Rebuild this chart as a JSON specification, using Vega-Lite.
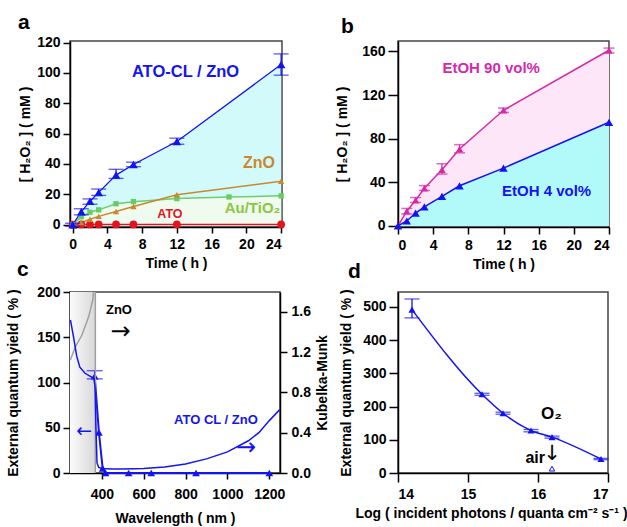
{
"$schema": "https://vega.github.io/schema/vega-lite/v6.json",
"background": "white",
"padding": {"left": 5, "top": 10, "right": 0, "bottom": 0},
"config": {
  "font": "Liberation Sans",
  "view": {"stroke": "#444", "strokeWidth": 1.5},
  "axis": {"grid": false, "labelFont": "Liberation Sans", "labelFontWeight": "bold", "labelFontSize": 14, "labelColor": "#000", "titleFont": "Liberation Sans", "titleFontSize": 14, "titleFontWeight": "bold", "titleColor": "#000", "domainColor": "#000", "domainWidth": 1.5, "tickColor": "#000", "tickWidth": 1.5, "tickSize": 7, "labelPadding": 3, "titlePadding": 5},
  "title": {"font": "Liberation Sans", "fontSize": 21, "fontWeight": "bold", "anchor": "start", "frame": "group", "color": "#000"},
  "text": {"font": "Liberation Sans", "fontWeight": "bold"}
},
"datasets": {
  "a": [
    {"s":"A","t":0,"v":0,"lo":-1,"hi":1},
    {"s":"A","t":1,"v":8.5,"lo":6.5,"hi":10.5},
    {"s":"A","t":2,"v":15.5,"lo":13.5,"hi":17},
    {"s":"A","t":3,"v":21.3,"lo":19.3,"hi":23.5},
    {"s":"A","t":5,"v":32.7,"lo":30.5,"hi":36.5},
    {"s":"A","t":7,"v":39.7,"lo":38.2,"hi":41.2},
    {"s":"A","t":12,"v":54.8,"lo":53,"hi":57},
    {"s":"A","t":24,"v":105.5,"lo":98.5,"hi":112.5},
    {"s":"Z","t":0,"v":0},{"s":"Z","t":1,"v":1.5},{"s":"Z","t":2,"v":3.6},{"s":"Z","t":3,"v":5.5},{"s":"Z","t":5,"v":8.7},{"s":"Z","t":7,"v":12},{"s":"Z","t":12,"v":19.8},{"s":"Z","t":24,"v":28.7},
    {"s":"G","t":0,"v":0},{"s":"G","t":1,"v":5.2},{"s":"G","t":2,"v":8.2},{"s":"G","t":3,"v":9.8},{"s":"G","t":5,"v":13.8},{"s":"G","t":7,"v":15.2},{"s":"G","t":12,"v":17.2},{"s":"G","t":18,"v":18.3},{"s":"G","t":24,"v":19},
    {"s":"R","t":0,"v":0},{"s":"R","t":1,"v":0.2},{"s":"R","t":2,"v":0.2},{"s":"R","t":3,"v":0.2},{"s":"R","t":5,"v":0.2},{"s":"R","t":7,"v":0.2},{"s":"R","t":12,"v":0.2},{"s":"R","t":24,"v":0.2}
  ],
  "b": [
    {"s":"M","t":0,"v":0},
    {"s":"M","t":1,"v":13.5,"lo":11,"hi":16},
    {"s":"M","t":2,"v":23.5,"lo":21.5,"hi":26},
    {"s":"M","t":3,"v":34.5,"lo":32.5,"hi":37},
    {"s":"M","t":5,"v":51.5,"lo":47.5,"hi":57},
    {"s":"M","t":7,"v":70.5,"lo":67,"hi":74.5},
    {"s":"M","t":12,"v":106,"lo":104,"hi":108},
    {"s":"M","t":24,"v":161,"lo":158.5,"hi":163},
    {"s":"B","t":0,"v":0},{"s":"B","t":1,"v":4.5},{"s":"B","t":2,"v":11.8},{"s":"B","t":3,"v":17.5},{"s":"B","t":5,"v":27},{"s":"B","t":7,"v":36.8},{"s":"B","t":12,"v":53},{"s":"B","t":24,"v":95}
  ],
  "c_eqy": [
    {"w":366,"q":107,"lo":104,"hi":113},
    {"w":386,"q":45},
    {"w":404,"q":5},
    {"w":418,"q":0},
    {"w":528,"q":0},
    {"w":636,"q":0},
    {"w":850,"q":0},
    {"w":1200,"q":0}
  ],
  "c_km": [
    {"w":250,"k":1.52},{"w":265,"k":1.35},{"w":280,"k":1.16},{"w":295,"k":1.05},{"w":320,"k":0.99},{"w":345,"k":0.96},{"w":362,"k":0.94},{"w":368,"k":0.85},{"w":372,"k":0.45},{"w":377,"k":0.1},{"w":385,"k":0.055},{"w":400,"k":0.045},{"w":450,"k":0.04},{"w":500,"k":0.04},{"w":600,"k":0.045},{"w":700,"k":0.06},{"w":800,"k":0.09},{"w":900,"k":0.14},{"w":1000,"k":0.21},{"w":1100,"k":0.32},{"w":1150,"k":0.4},{"w":1200,"k":0.52},{"w":1250,"k":0.63}
  ],
  "c_zno": [
    {"i":1,"w":249,"k":1.12},{"i":2,"w":273,"k":1.25},{"i":3,"w":305,"k":1.37},{"i":4,"w":337,"k":1.55},{"i":5,"w":357,"k":1.72},{"i":6,"w":364,"k":1.9},{"i":7,"w":369,"k":1.9},{"i":8,"w":369,"k":0}
  ],
  "d": [
    {"p":14.2,"e":492,"lo":467,"hi":524},
    {"p":15.2,"e":237,"lo":234,"hi":240},
    {"p":15.5,"e":180,"lo":177,"hi":183},
    {"p":15.9,"e":128,"lo":124,"hi":131},
    {"p":16.2,"e":108,"lo":105,"hi":111},
    {"p":16.9,"e":42,"lo":40,"hi":44}
  ],
  "d_air": [{"p":16.2,"e":13}]
},
"columns": 2,
"bounds": "flush",
"spacing": {"row": 65, "column": 116},
"concat": [
{
  "width": 212, "height": 186,
  "title": {"text": "a", "dx": -52, "offset": 3},
  "data": {"name": "a"},
  "encoding": {
    "x": {"field":"t","type":"quantitative","scale":{"domain":[-0.3,24.1],"nice":false,"zero":false},"axis":{"values":[0,4,8,12,16,20,24],"tickSize":6,"labelPadding":4},"title":"Time ( h )"},
    "y": {"field":"v","type":"quantitative","scale":{"domain":[-1.5,121],"nice":false,"zero":false},"axis":{"values":[0,20,40,60,80,100,120],"tickSize":7,"titlePadding":4},"title":"[ H₂O₂ ] ( mM )"}
  },
  "layer": [
    {"transform":[{"filter":"datum.s == 'A'"}],"mark":{"type":"area","color":"#d2fafa"},"encoding":{"y2":{"datum":0}}},
    {"transform":[{"filter":"datum.s == 'G'"}],"mark":{"type":"area","color":"#eefbee"},"encoding":{"y2":{"datum":0}}},
    {"transform":[{"filter":"datum.s == 'R'"}],"mark":{"type":"line","color":"#e4141e","strokeWidth":1.5},"encoding":{}},
    {"transform":[{"filter":"datum.s == 'G'"}],"mark":{"type":"line","color":"#6fcc6f","strokeWidth":1.5},"encoding":{}},
    {"transform":[{"filter":"datum.s == 'Z'"}],"mark":{"type":"line","color":"#c8892e","strokeWidth":1.5},"encoding":{}},
    {"transform":[{"filter":"datum.s == 'A'"}],"mark":{"type":"line","color":"#1414f0","strokeWidth":1.3},"encoding":{}},
    {"transform":[{"filter":"datum.s == 'R'"}],"mark":{"type":"point","shape":"circle","filled":true,"size":60,"opacity":1,"color":"#e4141e"}},
    {"transform":[{"filter":"datum.s == 'G'"}],"mark":{"type":"point","shape":"square","filled":true,"size":28,"opacity":1,"color":"#66cc66"}},
    {"transform":[{"filter":"datum.s == 'Z'"}],"mark":{"type":"point","shape":"triangle-up","filled":true,"size":40,"opacity":1,"color":"#c8892e"}},
    {"transform":[{"filter":"datum.s == 'A'"}],"mark":{"type":"point","shape":"triangle-up","filled":true,"size":75,"opacity":1,"color":"#1414f0"}},
    {"transform":[{"filter":"datum.s == 'A'"}],"mark":{"type":"rule","color":"#1414f0","strokeWidth":1.3},"encoding":{"y":{"field":"lo","type":"quantitative","title":"[ H₂O₂ ] ( mM )"},"y2":{"field":"hi"}}},
    {"transform":[{"filter":"datum.s == 'A'"}],"mark":{"type":"tick","orient":"horizontal","color":"#1414f0","size":15,"thickness":1.3},"encoding":{"y":{"field":"lo","type":"quantitative","title":"[ H₂O₂ ] ( mM )"}}},
    {"transform":[{"filter":"datum.s == 'A'"}],"mark":{"type":"tick","orient":"horizontal","color":"#1414f0","size":15,"thickness":1.3},"encoding":{"y":{"field":"hi","type":"quantitative","title":"[ H₂O₂ ] ( mM )"}}},
    {"transform":[{"filter":"datum.s == 'A' && datum.t == 24"}],"mark":{"type":"text","text":"ATO-CL / ZnO","fontSize":16.5,"color":"#1414f0"},"encoding":{"x":{"datum":13},"y":{"datum":100.3}}},
    {"transform":[{"filter":"datum.s == 'A' && datum.t == 24"}],"mark":{"type":"text","text":"ZnO","fontSize":16,"color":"#c8892e"},"encoding":{"x":{"datum":21.45},"y":{"datum":40.4}}},
    {"transform":[{"filter":"datum.s == 'A' && datum.t == 24"}],"mark":{"type":"text","text":"Au/TiO₂","fontSize":15,"color":"#8cc63f"},"encoding":{"x":{"datum":20.7},"y":{"datum":10.8}}},
    {"transform":[{"filter":"datum.s == 'A' && datum.t == 24"}],"mark":{"type":"text","text":"ATO","fontSize":12.5,"color":"#e4141e"},"encoding":{"x":{"datum":11.2},"y":{"datum":6.9}}}
  ]
},
{
  "width": 211, "height": 186,
  "title": {"text": "b", "dx": -57, "offset": 4},
  "data": {"name": "b"},
  "encoding": {
    "x": {"field":"t","type":"quantitative","scale":{"domain":[0,24],"nice":false,"zero":false},"axis":{"values":[0,4,8,12,16,20,24],"tickSize":7,"labelPadding":4},"title":"Time ( h )"},
    "y": {"field":"v","type":"quantitative","scale":{"domain":[-1,169.5],"nice":false,"zero":false},"axis":{"values":[0,40,80,120,160],"tickSize":10,"titlePadding":12},"title":"[ H₂O₂ ] ( mM )"}
  },
  "layer": [
    {"transform":[{"filter":"datum.s == 'M'"}],"mark":{"type":"area","color":"#fde6f8"},"encoding":{"y2":{"datum":0}}},
    {"transform":[{"filter":"datum.s == 'B'"}],"mark":{"type":"area","color":"#b2fafa"},"encoding":{"y2":{"datum":0}}},
    {"transform":[{"filter":"datum.s == 'M'"}],"mark":{"type":"line","color":"#d42aa8","strokeWidth":1.5},"encoding":{}},
    {"transform":[{"filter":"datum.s == 'B'"}],"mark":{"type":"line","color":"#1414f0","strokeWidth":1.5},"encoding":{}},
    {"transform":[{"filter":"datum.s == 'M'"}],"mark":{"type":"point","shape":"triangle-up","filled":true,"size":55,"opacity":1,"color":"#d42aa8"}},
    {"transform":[{"filter":"datum.s == 'B'"}],"mark":{"type":"point","shape":"triangle-up","filled":true,"size":70,"opacity":1,"color":"#1414f0"}},
    {"transform":[{"filter":"datum.s == 'M' && isValid(datum.lo)"}],"mark":{"type":"rule","color":"#d42aa8","strokeWidth":1.3},"encoding":{"y":{"field":"lo","type":"quantitative","title":"[ H₂O₂ ] ( mM )"},"y2":{"field":"hi"}}},
    {"transform":[{"filter":"datum.s == 'M' && isValid(datum.lo)"}],"mark":{"type":"tick","orient":"horizontal","color":"#d42aa8","size":11,"thickness":1.5},"encoding":{"y":{"field":"lo","type":"quantitative","title":"[ H₂O₂ ] ( mM )"}}},
    {"transform":[{"filter":"datum.s == 'M' && isValid(datum.lo)"}],"mark":{"type":"tick","orient":"horizontal","color":"#d42aa8","size":11,"thickness":1.5},"encoding":{"y":{"field":"hi","type":"quantitative","title":"[ H₂O₂ ] ( mM )"}}},
    {"transform":[{"filter":"datum.s == 'B' && datum.t == 24"}],"mark":{"type":"text","text":"EtOH 90 vol%","fontSize":15,"color":"#d42aa8"},"encoding":{"x":{"datum":10.6},"y":{"datum":144.4}}},
    {"transform":[{"filter":"datum.s == 'B' && datum.t == 24"}],"mark":{"type":"text","text":"EtOH 4 vol%","fontSize":15,"color":"#1414f0"},"encoding":{"x":{"datum":16.9},"y":{"datum":32}}}
  ]
},
{
  "width": 210, "height": 181,
  "title": {"text": "c", "dx": -53, "offset": 5},
  "resolve": {"scale": {"y": "independent"}},
  "layer": [
    {
      "data": {"name": "c_eqy"},
      "encoding": {
        "x": {"field":"w","type":"quantitative","scale":{"domain":[248,1251],"nice":false,"zero":false},"axis":{"values":[400,600,800,1000,1200],"format":"d","tickSize":6,"labelPadding":8,"titlePadding":10},"title":"Wavelength ( nm )"},
        "y": {"field":"q","type":"quantitative","scale":{"domain":[0,200],"nice":false,"zero":false},"axis":{"values":[0,50,100,150,200],"tickSize":7,"titlePadding":16},"title":"External quantum yield ( % )"}
      },
      "layer": [
        {"transform":[{"filter":"datum.w == 1200"}],"mark":{"type":"rect","fill":{"gradient":"linear","x1":0,"y1":0,"x2":1,"y2":0,"stops":[{"offset":0,"color":"#fbfbfb"},{"offset":1,"color":"#d8d8d8"}]}},"encoding":{"x":{"datum":248},"x2":{"datum":369},"y":{"datum":0},"y2":{"datum":200}}},
        {"mark":{"type":"line","color":"#1414f0","strokeWidth":2},"encoding":{}},
        {"mark":{"type":"point","shape":"triangle-up","filled":true,"size":60,"opacity":1,"color":"#1414f0"}},
        {"transform":[{"filter":"isValid(datum.lo)"}],"mark":{"type":"rule","color":"#1414f0","strokeWidth":1.3},"encoding":{"y":{"field":"lo","type":"quantitative","title":"External quantum yield ( % )"},"y2":{"field":"hi"}}},
        {"transform":[{"filter":"isValid(datum.lo)"}],"mark":{"type":"tick","orient":"horizontal","color":"#1414f0","size":16,"thickness":1.3},"encoding":{"y":{"field":"lo","type":"quantitative","title":"External quantum yield ( % )"}}},
        {"transform":[{"filter":"isValid(datum.lo)"}],"mark":{"type":"tick","orient":"horizontal","color":"#1414f0","size":16,"thickness":1.3},"encoding":{"y":{"field":"hi","type":"quantitative","title":"External quantum yield ( % )"}}},
        {"transform":[{"filter":"datum.w == 1200"}],"mark":{"type":"text","text":"ZnO","fontSize":13,"color":"#000"},"encoding":{"x":{"datum":482},"y":{"datum":180}}},
        {"transform":[{"filter":"datum.w == 1200"}],"mark":{"type":"text","text":"→","font":"DejaVu Sans","fontSize":24,"fontWeight":"normal","color":"#000"},"encoding":{"x":{"datum":490},"y":{"datum":156}}},
        {"transform":[{"filter":"datum.w == 1200"}],"mark":{"type":"text","text":"←","font":"DejaVu Sans","fontSize":19,"fontWeight":"normal","color":"#1414f0"},"encoding":{"x":{"datum":316},"y":{"datum":46}}},
        {"transform":[{"filter":"datum.w == 1200"}],"mark":{"type":"text","text":"→","font":"DejaVu Sans","fontSize":24,"fontWeight":"normal","color":"#1414f0"},"encoding":{"x":{"datum":1089},"y":{"datum":28}}},
        {"transform":[{"filter":"datum.w == 1200"}],"mark":{"type":"text","text":"ATO CL / ZnO","fontSize":13,"color":"#1414f0"},"encoding":{"x":{"datum":945},"y":{"datum":59}}}
      ]
    },
    {
      "encoding": {
        "x": {"field":"w","type":"quantitative","scale":{"domain":[248,1251],"nice":false,"zero":false},"title":"Wavelength ( nm )"},
        "y": {"field":"k","type":"quantitative","scale":{"domain":[0,1.797],"nice":false,"zero":false},"axis":{"orient":"right","values":[0,0.4,0.8,1.2,1.6],"format":".1f","tickSize":7,"labelPadding":4,"titlePadding":5,"titleAngle":-90,"titleBaseline":"top"},"title":"Kubelka-Munk"}
      },
      "layer": [
        {"data":{"name":"c_zno"},"mark":{"type":"line","color":"#a0a0a0","strokeWidth":1.5,"clip":true},"encoding":{"order":{"field":"i"}}},
        {"data":{"name":"c_km"},"mark":{"type":"line","color":"#1414f0","strokeWidth":1.5,"clip":true},"encoding":{}}
      ]
    }
  ]
},
{
  "width": 210, "height": 181,
  "title": {"text": "d", "dx": -50, "offset": 7},
  "data": {"name": "d"},
  "encoding": {
    "x": {"field":"p","type":"quantitative","scale":{"domain":[14,17],"nice":false,"zero":false},"axis":{"values":[14,15,16,17],"format":"d","tickSize":9,"labelPadding":5,"titleX":93},"title":"Log ( incident photons / quanta cm⁻² s⁻¹ )"},
    "y": {"field":"e","type":"quantitative","scale":{"domain":[0,545],"nice":false,"zero":false},"axis":{"values":[0,100,200,300,400,500],"tickSize":9,"titlePadding":9},"title":"External quantum yield ( % )"}
  },
  "layer": [
    {"mark":{"type":"line","color":"#1414f0","strokeWidth":1.5,"interpolate":"monotone"},"encoding":{}},
    {"mark":{"type":"point","shape":"triangle-up","filled":true,"size":50,"opacity":1,"color":"#1414f0"}},
    {"mark":{"type":"rule","color":"#1414f0","strokeWidth":1.3},"encoding":{"y":{"field":"lo","type":"quantitative","title":"External quantum yield ( % )"},"y2":{"field":"hi"}}},
    {"mark":{"type":"tick","orient":"horizontal","color":"#1414f0","size":15,"thickness":1.3},"encoding":{"y":{"field":"lo","type":"quantitative","title":"External quantum yield ( % )"}}},
    {"mark":{"type":"tick","orient":"horizontal","color":"#1414f0","size":15,"thickness":1.3},"encoding":{"y":{"field":"hi","type":"quantitative","title":"External quantum yield ( % )"}}},
    {"data":{"name":"d_air"},"mark":{"type":"point","shape":"triangle-up","filled":false,"size":30,"opacity":1,"color":"#1414f0","strokeWidth":1}},
    {"data":{"name":"d_air"},"mark":{"type":"text","text":"O₂","fontSize":17,"color":"#000"},"encoding":{"x":{"datum":16.19},"y":{"datum":178}}},
    {"data":{"name":"d_air"},"mark":{"type":"text","text":"air","fontSize":16,"color":"#000"},"encoding":{"x":{"datum":15.96},"y":{"datum":46}}},
    {"data":{"name":"d_air"},"mark":{"type":"text","text":"↓","font":"DejaVu Sans","fontSize":21,"fontWeight":"normal","color":"#000"},"encoding":{"x":{"datum":16.2},"y":{"datum":57}}}
  ]
}
]
}
